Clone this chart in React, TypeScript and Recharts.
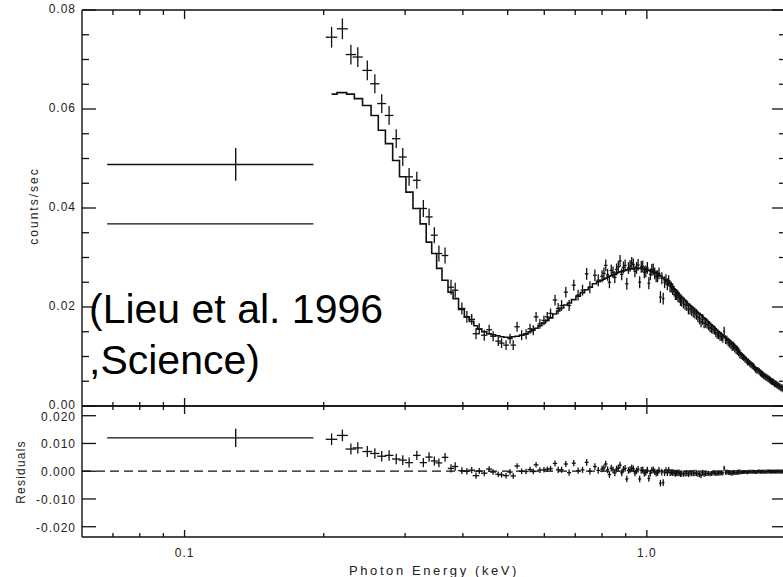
import { ComposedChart, Line, Scatter, ErrorBar, XAxis, YAxis, ReferenceLine } from "recharts";

// wide low-energy bin (0.068 - 0.19 keV)
const wideBin = { energy: 0.129, halfWidth: 0.061, counts: 0.0488, err: 0.0033, model: 0.0368 };

// steep soft-excess section
const softE = [0.208, 0.2195, 0.229, 0.237, 0.2485, 0.258, 0.267, 0.277, 0.287, 0.2965, 0.306, 0.318, 0.3285, 0.338, 0.347, 0.355, 0.366, 0.377, 0.385];
const softCounts = [0.0745, 0.0762, 0.071, 0.0705, 0.0678, 0.0651, 0.0611, 0.0587, 0.054, 0.0503, 0.0463, 0.0456, 0.0399, 0.0382, 0.0345, 0.0308, 0.0304, 0.024, 0.0234];
const softModel = [0.063, 0.0633, 0.063, 0.0621, 0.0607, 0.0587, 0.0557, 0.053, 0.0496, 0.0463, 0.0432, 0.0399, 0.0368, 0.0331, 0.0308, 0.0278, 0.0254, 0.023, 0.0217];
const softErr = [0.0021, 0.0021, 0.002, 0.002, 0.002, 0.0019, 0.0019, 0.0019, 0.0019, 0.0018, 0.0018, 0.0017, 0.0017, 0.0017, 0.0016, 0.0016, 0.0016, 0.0015, 0.0015];
const softHalfWidth = 0.006;

// trough around 0.5 keV
const troughE = [0.398, 0.408, 0.418, 0.427, 0.434, 0.445, 0.456, 0.465, 0.477, 0.485, 0.496, 0.506, 0.514, 0.524, 0.536, 0.548, 0.559, 0.568, 0.576, 0.587, 0.599, 0.609, 0.619, 0.633, 0.643, 0.654, 0.668, 0.679, 0.695, 0.71, 0.726, 0.741, 0.753, 0.772, 0.785];
const troughCounts = [0.0197, 0.018, 0.0175, 0.0146, 0.0156, 0.0143, 0.0154, 0.0141, 0.0131, 0.0127, 0.0123, 0.0136, 0.0123, 0.016, 0.0143, 0.0145, 0.0156, 0.0153, 0.018, 0.0166, 0.0173, 0.018, 0.0187, 0.0214, 0.0197, 0.0203, 0.023, 0.0203, 0.0244, 0.0224, 0.0234, 0.0267, 0.024, 0.0264, 0.0254];
const troughModel = [0.0195, 0.018, 0.0171, 0.0162, 0.0155, 0.015, 0.0146, 0.0144, 0.0142, 0.014, 0.0139, 0.0139, 0.014, 0.0141, 0.0143, 0.0146, 0.015, 0.0154, 0.0157, 0.0162, 0.0168, 0.0173, 0.0178, 0.0186, 0.0192, 0.0198, 0.0204, 0.0208, 0.0215, 0.0222, 0.0229, 0.0235, 0.024, 0.0247, 0.0251];
const troughErr = [0.0012, 0.0012, 0.0011, 0.0011, 0.0011, 0.0011, 0.001, 0.001, 0.001, 0.001, 0.001, 0.001, 0.001, 0.001, 0.001, 0.001, 0.001, 0.001, 0.001, 0.001, 0.001, 0.001, 0.001, 0.0011, 0.0011, 0.0011, 0.0011, 0.0011, 0.0011, 0.0011, 0.0011, 0.0012, 0.0012, 0.0012, 0.0012];
const troughHalfWidth = 0.007;

// bump near 1 keV and the high-energy tail (even channels)
const bumpE = [0.8, 0.815, 0.83, 0.845, 0.86, 0.875, 0.89, 0.905, 0.92, 0.935, 0.95, 0.965, 0.98, 0.995, 1.01, 1.025, 1.04, 1.055, 1.07, 1.085, 1.1, 1.115, 1.13, 1.145, 1.16, 1.175, 1.19, 1.21, 1.23, 1.25, 1.27, 1.29, 1.31, 1.33, 1.35, 1.37, 1.39, 1.41, 1.43, 1.45, 1.47, 1.49, 1.51, 1.53, 1.55, 1.57, 1.59, 1.61, 1.63, 1.65, 1.67, 1.69, 1.71, 1.73, 1.75, 1.77, 1.79, 1.81, 1.83, 1.85, 1.87, 1.89, 1.91, 1.93, 1.95, 1.97, 1.99];
const bumpCounts = [0.0262, 0.0284, 0.025, 0.027, 0.0276, 0.0293, 0.028, 0.0247, 0.0283, 0.0286, 0.0279, 0.025, 0.0282, 0.0272, 0.0248, 0.0275, 0.0268, 0.0262, 0.022, 0.0217, 0.0255, 0.0253, 0.024, 0.0232, 0.0225, 0.0219, 0.0212, 0.0205, 0.0196, 0.0193, 0.0188, 0.018, 0.017, 0.0168, 0.0165, 0.0158, 0.0155, 0.0148, 0.0144, 0.014, 0.0151, 0.0133, 0.0127, 0.012, 0.0117, 0.0112, 0.0105, 0.01, 0.0095, 0.0089, 0.0086, 0.0082, 0.0077, 0.0072, 0.007, 0.0065, 0.0061, 0.0058, 0.0055, 0.0052, 0.0049, 0.0045, 0.0043, 0.004, 0.0037, 0.0035, 0.0033];
const bumpModel = [0.0254, 0.0258, 0.0262, 0.0265, 0.0268, 0.0271, 0.0273, 0.0275, 0.0277, 0.0277, 0.0278, 0.0278, 0.0277, 0.0276, 0.0274, 0.0272, 0.027, 0.0267, 0.0263, 0.0258, 0.0252, 0.0249, 0.0244, 0.0237, 0.0231, 0.0225, 0.022, 0.0213, 0.0206, 0.02, 0.0194, 0.0189, 0.0184, 0.0178, 0.0173, 0.0167, 0.0161, 0.0156, 0.015, 0.0145, 0.014, 0.0136, 0.0132, 0.0127, 0.0122, 0.0116, 0.0108, 0.0103, 0.0098, 0.0093, 0.0088, 0.0084, 0.0079, 0.0075, 0.0071, 0.0067, 0.0063, 0.006, 0.0056, 0.0053, 0.005, 0.0047, 0.0044, 0.0041, 0.0039, 0.0036, 0.0034];
const bumpErr = [
  0.0012, 0.0012, 0.0012, 0.0012, 0.0012, 0.0012, 0.0012, 0.0012, 0.0012, 0.0012, 0.0012, 0.0012, 0.0012, 0.0012, 0.0012, 0.0012, 0.0012, 0.0012, 0.0012, 0.0012,
  0.0011, 0.0011, 0.0011, 0.0011, 0.0011, 0.0011, 0.0011, 0.0011, 0.0011, 0.0011, 0.0011, 0.0011, 0.0011, 0.0011,
  0.0009, 0.0009, 0.0009, 0.0009, 0.0009, 0.0009, 0.0009, 0.0009, 0.0009, 0.0009, 0.0009, 0.0009, 0.0009,
  0.0007, 0.0007, 0.0007, 0.0007, 0.0007, 0.0007, 0.0007, 0.0007, 0.0007, 0.0007, 0.0007, 0.0007, 0.0007, 0.0007, 0.0007, 0.0007, 0.0007, 0.0007, 0.0007, 0.0007,
];

// bump, odd channels (between the ones above)
const bumpOddE = [0.8075, 0.8225, 0.8375, 0.8525, 0.8675, 0.8825, 0.8975, 0.9125, 0.9275, 0.9425, 0.9575, 0.9725, 0.9875, 1.0025, 1.0175, 1.0325, 1.0475, 1.0625, 1.0775, 1.0925, 1.1075, 1.1225, 1.1375, 1.1525, 1.1675, 1.1825, 1.2, 1.22, 1.24, 1.26, 1.28, 1.3, 1.32, 1.34, 1.36, 1.38, 1.4, 1.42, 1.44, 1.46, 1.48, 1.5, 1.52, 1.54, 1.56, 1.58, 1.6, 1.62, 1.64, 1.66, 1.68, 1.7, 1.72, 1.74, 1.76, 1.78, 1.8, 1.82, 1.84, 1.86, 1.88, 1.9, 1.92, 1.94, 1.96, 1.98];
const bumpOddCounts = [0.0268, 0.0265, 0.0274, 0.026, 0.0281, 0.0266, 0.0284, 0.0279, 0.0289, 0.0272, 0.0285, 0.0281, 0.027, 0.0279, 0.0266, 0.0276, 0.0262, 0.0268, 0.0258, 0.025, 0.0246, 0.0242, 0.0236, 0.0226, 0.0222, 0.0214, 0.0208, 0.0203, 0.0196, 0.019, 0.0185, 0.0176, 0.0175, 0.0167, 0.0162, 0.0156, 0.0153, 0.0145, 0.0141, 0.0137, 0.0134, 0.0129, 0.0124, 0.0121, 0.0114, 0.0109, 0.0102, 0.0098, 0.0093, 0.0089, 0.0084, 0.008, 0.0074, 0.0072, 0.0067, 0.0064, 0.006, 0.0057, 0.0054, 0.005, 0.0048, 0.0045, 0.0042, 0.0039, 0.0037, 0.0035];
const bumpOddModel = [0.0256, 0.026, 0.0263, 0.0266, 0.027, 0.0272, 0.0274, 0.0276, 0.0277, 0.0278, 0.0278, 0.0278, 0.0277, 0.0275, 0.0273, 0.0271, 0.0269, 0.0265, 0.0261, 0.0255, 0.0251, 0.0247, 0.0241, 0.0234, 0.0228, 0.0223, 0.0217, 0.021, 0.0203, 0.0197, 0.0192, 0.0187, 0.0181, 0.0176, 0.017, 0.0164, 0.0159, 0.0153, 0.0148, 0.0143, 0.0138, 0.0134, 0.013, 0.0125, 0.0119, 0.0112, 0.0106, 0.0101, 0.0096, 0.0091, 0.0086, 0.0082, 0.0077, 0.0073, 0.0069, 0.0065, 0.0062, 0.0058, 0.0055, 0.0052, 0.0049, 0.0046, 0.0043, 0.004, 0.0038, 0.0035];
const bumpOddErr = [
  0.0012, 0.0012, 0.0012, 0.0012, 0.0012, 0.0012, 0.0012, 0.0012, 0.0012, 0.0012, 0.0012, 0.0012, 0.0012, 0.0012, 0.0012, 0.0012, 0.0012, 0.0012, 0.0012, 0.0012, 0.0012, 0.0012, 0.0012, 0.0012, 0.0012, 0.0012,
  0.0011, 0.0011, 0.0011, 0.0011, 0.0011, 0.0011, 0.0011,
  0.0009, 0.0009, 0.0009, 0.0009, 0.0009, 0.0009, 0.0009, 0.0009, 0.0009, 0.0009, 0.0009, 0.0009, 0.0009,
  0.0007, 0.0007, 0.0007, 0.0007, 0.0007, 0.0007, 0.0007, 0.0007, 0.0007, 0.0007, 0.0007, 0.0007, 0.0007, 0.0007, 0.0007, 0.0007, 0.0007, 0.0007, 0.0007, 0.0007,
];
const bumpHalfWidth = 0.007;

const energyTicks = [0.07, 0.08, 0.09, 0.1, 0.2, 0.3, 0.4, 0.5, 0.6, 0.7, 0.8, 0.9, 1, 2];
const energyLabels = [0.1, 1];
const countTicks = [0, 0.005, 0.01, 0.015, 0.02, 0.025, 0.03, 0.035, 0.04, 0.045, 0.05, 0.055, 0.06, 0.065, 0.07, 0.075, 0.08];
const countLabels = [0, 0.02, 0.04, 0.06, 0.08];
const residTicks = [-0.02, -0.01, 0, 0.01, 0.02];

type Row = { e: number; xe: number; c: number; ce: number; m: number; r: number };

function section(es: number[], cs: number[], ms: number[], errs: number[], half: number): Row[] {
  return es.map((e, i) => ({ e, xe: half, c: cs[i], ce: errs[i], m: ms[i], r: cs[i] - ms[i] }));
}

const rows: Row[] = [
  ...section(softE, softCounts, softModel, softErr, softHalfWidth),
  ...section(troughE, troughCounts, troughModel, troughErr, troughHalfWidth),
  ...section(bumpE, bumpCounts, bumpModel, bumpErr, bumpHalfWidth),
  ...section(bumpOddE, bumpOddCounts, bumpOddModel, bumpOddErr, bumpHalfWidth),
].sort((a, b) => a.e - b.e);

const wideRows: Row[] = [
  {
    e: wideBin.energy,
    xe: wideBin.halfWidth,
    c: wideBin.counts,
    ce: wideBin.err,
    m: wideBin.model,
    r: wideBin.counts - wideBin.model,
  },
];

const INK = "#111";
const FONT = "'Liberation Sans', Arial, Helvetica, sans-serif";
const tickText = { fontFamily: FONT, fontSize: 12, letterSpacing: 1, fill: "#222" };

const isIn = (v: number, list: number[]) => list.some((m) => Math.abs(m - v) < 1e-9);

// inward ticks on the vertical frame
const yTick = (side: "left" | "right", majors: number[], digits: number, dy: number) => (p: any) => {
  const v = p.payload.value;
  const major = isIn(v, majors);
  const len = major ? 14 : 7;
  const dir = side === "left" ? 1 : -1;
  return (
    <g>
      <line x1={p.x} x2={p.x + dir * len} y1={p.y} y2={p.y} stroke={INK} strokeWidth={1.3} />
      {side === "left" && major && (
        <text x={p.x - 6} y={p.y + dy} textAnchor="end" {...tickText}>
          {v.toFixed(digits)}
        </text>
      )}
    </g>
  );
};

// inward ticks on the horizontal frame
const xTick = (edge: "top" | "bottom", labelled: boolean, majorLen: number, minorLen: number) => (p: any) => {
  const v = p.payload.value;
  const major = isIn(v, energyLabels);
  const len = major ? majorLen : minorLen;
  const dir = edge === "bottom" ? -1 : 1;
  return (
    <g>
      <line x1={p.x} x2={p.x} y1={p.y} y2={p.y + dir * len} stroke={INK} strokeWidth={1.3} />
      {labelled && major && (
        <text x={p.x} y={p.y + 20} textAnchor="middle" {...tickText}>
          {v.toFixed(1)}
        </text>
      )}
    </g>
  );
};

const noDot = () => <g />;

const frame = { stroke: INK, strokeWidth: 1.4 };

const xAxisCommon = {
  type: "number" as const,
  scale: "log" as const,
  dataKey: "e",
  domain: [0.06, 2.0],
  allowDataOverflow: true,
  ticks: energyTicks,
  interval: 0,
  tickLine: false,
  tickSize: 0,
  tickMargin: 0,
  height: 1,
  axisLine: frame,
};

const yAxisCommon = {
  type: "number" as const,
  allowDataOverflow: true,
  interval: 0,
  width: 1,
  tickLine: false,
  tickSize: 0,
  tickMargin: 0,
  axisLine: frame,
};

export default function App() {
  return (
    <div
      style={{
        position: "absolute",
        left: 0,
        top: 0,
        width: 783,
        height: 577,
        overflow: "hidden",
        background: "#fff",
      }}
    >
      <div style={{ position: "absolute", left: 0, top: 0 }}>
        <ComposedChart width={790} height={420} data={rows} margin={{ top: 9, right: 3, bottom: 13, left: 81 }}>
          <XAxis xAxisId="b" orientation="bottom" {...xAxisCommon} tick={xTick("bottom", false, 8, 4)} />
          <XAxis xAxisId="t" orientation="top" {...xAxisCommon} tick={xTick("top", false, 9, 5)} />
          <YAxis
            yAxisId="l"
            orientation="left"
            {...yAxisCommon}
            domain={[0, 0.08]}
            ticks={countTicks}
            tick={yTick("left", countLabels, 2, 2.5)}
          />
          <YAxis
            yAxisId="r"
            orientation="right"
            {...yAxisCommon}
            domain={[0, 0.08]}
            ticks={countTicks}
            tick={yTick("right", countLabels, 2, 2.5)}
          />
          <Line
            xAxisId="b"
            yAxisId="l"
            data={rows}
            type="step"
            dataKey="m"
            stroke={INK}
            strokeWidth={1.6}
            dot={false}
            activeDot={false}
            isAnimationActive={false}
          />
          <Scatter xAxisId="b" yAxisId="l" data={wideRows} dataKey="m" shape={noDot} isAnimationActive={false}>
            <ErrorBar dataKey="xe" direction="x" width={0} stroke={INK} strokeWidth={1.4} isAnimationActive={false} />
          </Scatter>
          <Scatter xAxisId="b" yAxisId="l" data={wideRows} dataKey="c" shape={noDot} isAnimationActive={false}>
            <ErrorBar dataKey="xe" direction="x" width={0} stroke={INK} strokeWidth={1.4} isAnimationActive={false} />
            <ErrorBar dataKey="ce" direction="y" width={0} stroke={INK} strokeWidth={1.4} isAnimationActive={false} />
          </Scatter>
          <Scatter xAxisId="b" yAxisId="l" data={rows} dataKey="c" shape={noDot} isAnimationActive={false}>
            <ErrorBar dataKey="xe" direction="x" width={0} stroke={INK} strokeWidth={1.3} isAnimationActive={false} />
            <ErrorBar dataKey="ce" direction="y" width={0} stroke={INK} strokeWidth={1.3} isAnimationActive={false} />
          </Scatter>
        </ComposedChart>
      </div>

      <div style={{ position: "absolute", left: 0, top: 396 }}>
        <ComposedChart width={790} height={181} data={rows} margin={{ top: 9, right: 3, bottom: 39, left: 81 }}>
          <XAxis xAxisId="b" orientation="bottom" {...xAxisCommon} tick={xTick("bottom", true, 7, 4)} />
          <XAxis xAxisId="t" orientation="top" {...xAxisCommon} tick={xTick("top", false, 8, 4)} />
          <YAxis
            yAxisId="l"
            orientation="left"
            {...yAxisCommon}
            domain={[-0.0237, 0.0235]}
            ticks={residTicks}
            tick={yTick("left", residTicks, 3, 5)}
          />
          <YAxis
            yAxisId="r"
            orientation="right"
            {...yAxisCommon}
            domain={[-0.0237, 0.0235]}
            ticks={residTicks}
            tick={yTick("right", residTicks, 3, 5)}
          />
          <ReferenceLine xAxisId="b" yAxisId="l" y={0} stroke={INK} strokeWidth={1.2} strokeDasharray="9 5" />
          <Scatter xAxisId="b" yAxisId="l" data={wideRows} dataKey="r" shape={noDot} isAnimationActive={false}>
            <ErrorBar dataKey="xe" direction="x" width={0} stroke={INK} strokeWidth={1.4} isAnimationActive={false} />
            <ErrorBar dataKey="ce" direction="y" width={0} stroke={INK} strokeWidth={1.4} isAnimationActive={false} />
          </Scatter>
          <Scatter xAxisId="b" yAxisId="l" data={rows} dataKey="r" shape={noDot} isAnimationActive={false}>
            <ErrorBar dataKey="xe" direction="x" width={0} stroke={INK} strokeWidth={1.3} isAnimationActive={false} />
            <ErrorBar dataKey="ce" direction="y" width={0} stroke={INK} strokeWidth={1.3} isAnimationActive={false} />
          </Scatter>
        </ComposedChart>
      </div>

      <svg
        width={783}
        height={577}
        style={{ position: "absolute", left: 0, top: 0, pointerEvents: "none" }}
      >
        <text transform="translate(38,206) rotate(-90)" textAnchor="middle" {...tickText} letterSpacing={2}>
          counts/sec
        </text>
        <text transform="translate(25,472) rotate(-90)" textAnchor="middle" {...tickText} letterSpacing={1.2}>
          Residuals
        </text>
        <text x={434} y={575} textAnchor="middle" {...tickText} fontSize={13} letterSpacing={2.6}>
          Photon Energy (keV)
        </text>
        <text x={89} y={323} fontFamily={FONT} fontSize={41} fill="#000">
          (Lieu et al. 1996
        </text>
        <text x={89} y={374} fontFamily={FONT} fontSize={41} fill="#000">
          ,Science)
        </text>
      </svg>
    </div>
  );
}
